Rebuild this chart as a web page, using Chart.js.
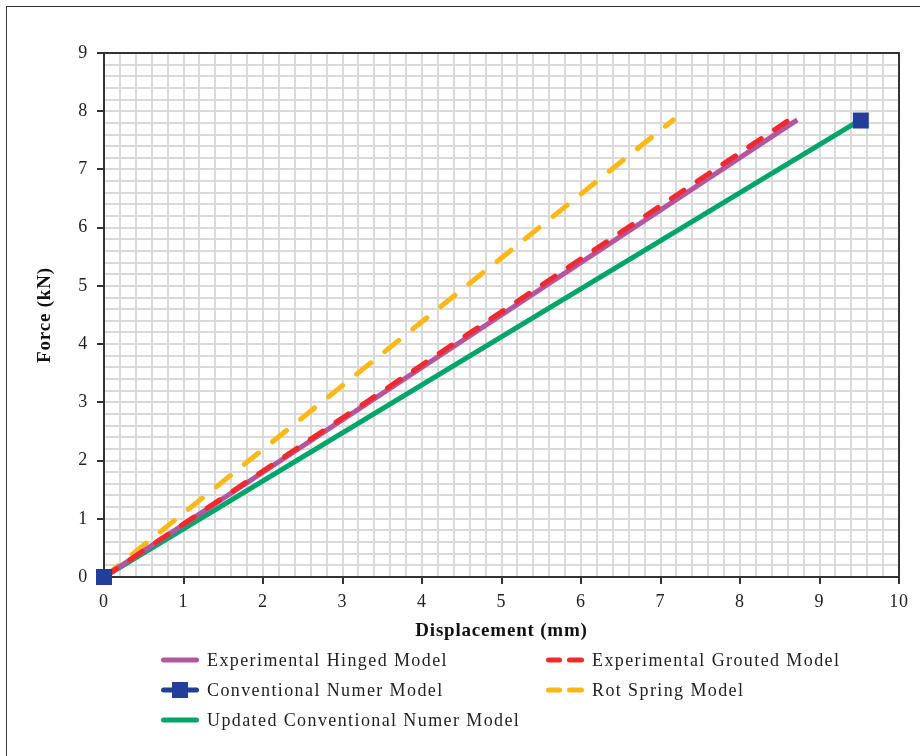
<!DOCTYPE html>
<html>
<head>
<meta charset="utf-8">
<script src="https://cdn.jsdelivr.net/npm/chart.js@4.4.1/dist/chart.umd.min.js"></script>
<style>
  html, body { margin: 0; padding: 0; background: #fff; }
  body { width: 920px; height: 756px; position: relative; overflow: hidden; }
  #frame { position: absolute; left: 6px; top: 6px; width: 1000px; height: 1000px; border: 1.5px solid #333; box-sizing: border-box; }
  #chart { position: absolute; left: 0; top: 0; }
  .lg { position: absolute; height: 30px; display: flex; align-items: center; font-family: 'Liberation Serif', serif; font-size: 18px; color: #222; letter-spacing: 1.4px; white-space: nowrap; }
  .lg canvas { margin-right: 8px; }
</style>
</head>
<body>
<div id="frame"></div>
<canvas id="chart" width="920" height="756"></canvas>
<div id="legend"></div>
<script>
const ctx = document.getElementById('chart').getContext('2d')
const serif = "'Liberation Serif', serif"

// end points, all curves start at the origin
const hingedX = [0, 8.72]
const hingedY = [0, 7.85]
const groutedX = [0, 8.64]
const groutedY = [0, 7.87]
const conventionalX = [0, 9.52]
const conventionalY = [0, 7.84]
const rotSpringX = [0, 7.16]
const rotSpringY = [0, 7.85]
const updatedX = [0, 9.5]
const updatedY = [0, 7.84]

const xTicks = [0, 1, 2, 3, 4, 5, 6, 7, 8, 9, 10]
const yTicks = [0, 1, 2, 3, 4, 5, 6, 7, 8, 9]

const pts = (xs, ys) => xs.map((x, i) => ({ x, y: ys[i] }))
const isMajor = v => Math.abs(v - Math.round(v)) < 1e-6

const datasets = [
  {
    label: 'Experimental Hinged Model',
    data: pts(hingedX, hingedY),
    borderColor: '#b4559e',
    borderWidth: 5,
    pointRadius: 0,
    order: 2,
  },
  {
    label: 'Experimental Grouted Model',
    data: pts(groutedX, groutedY),
    borderColor: '#ee2a2f',
    borderWidth: 5,
    borderDash: [15, 16],
    borderCapStyle: 'round',
    pointRadius: 0,
    order: 1,
  },
  {
    label: 'Conventional Numer Model',
    data: pts(conventionalX, conventionalY),
    borderColor: '#213f99',
    backgroundColor: '#213f99',
    showLine: false,
    pointStyle: 'rect',
    pointRadius: 11.3,
    pointBorderWidth: 0,
    clip: false,
    order: 0,
  },
  {
    label: 'Rot Spring Model',
    data: pts(rotSpringX, rotSpringY),
    borderColor: '#fbb817',
    borderWidth: 5,
    borderDash: [18, 18],
    borderCapStyle: 'round',
    pointRadius: 0,
    order: 4,
  },
  {
    label: 'Updated Conventional Numer Model',
    data: pts(updatedX, updatedY),
    borderColor: '#00a56a',
    borderWidth: 5,
    pointRadius: 0,
    order: 3,
  },
]

// top and right edges of the plot box
const boxPlugin = {
  id: 'box',
  beforeDraw(chart) {
    // the original lettering is a bit wider than Liberation Serif
    chart.ctx.letterSpacing = '0.8px'
  },
  beforeDatasetsDraw(chart) {
    const { ctx, chartArea: a } = chart
    ctx.save()
    ctx.strokeStyle = '#333'
    ctx.lineWidth = 2
    ctx.beginPath()
    ctx.moveTo(a.left, a.top)
    ctx.lineTo(a.right, a.top)
    ctx.lineTo(a.right, a.bottom)
    ctx.stroke()
    ctx.restore()
  },
  afterDraw(chart) {
    chart.ctx.letterSpacing = '0px'
  },
}

const gridOpts = {
  color: '#dadada',
  lineWidth: 2,
  tickLength: 7,
  tickWidth: 2,
  tickColor: c => (c.tick && isMajor(c.tick.value) ? '#333' : 'rgba(0,0,0,0)'),
}

const config = {
  type: 'line',
  data: { datasets },
  options: {
    responsive: false,
    animation: false,
    layout: { padding: { top: 53, right: 21, bottom: 109, left: 0 } },
    plugins: { legend: { display: false }, tooltip: { enabled: false } },
    scales: {
      x: {
        type: 'linear',
        min: xTicks[0],
        max: xTicks[xTicks.length - 1],
        ticks: {
          stepSize: 0.2,
          autoSkip: false,
          maxRotation: 0,
          padding: 7,
          color: '#222',
          font: { family: serif, size: 18 },
          callback: v => (isMajor(v) && xTicks.includes(Math.round(v)) ? Math.round(v) : ''),
        },
        grid: gridOpts,
        border: { color: '#333', width: 2 },
        title: {
          display: true,
          text: 'Displacement (mm)',
          color: '#111',
          font: { family: serif, size: 19, weight: 'bold' },
          padding: { top: 0, bottom: 5 },
        },
        afterFit: s => { s.height = 70 },
      },
      y: {
        type: 'linear',
        min: yTicks[0],
        max: yTicks[yTicks.length - 1],
        ticks: {
          stepSize: 0.2,
          autoSkip: false,
          padding: 9,
          color: '#222',
          font: { family: serif, size: 18 },
          callback: v => (isMajor(v) && yTicks.includes(Math.round(v)) ? Math.round(v) : ''),
        },
        grid: gridOpts,
        border: { color: '#333', width: 2 },
        title: {
          display: true,
          text: 'Force (kN)',
          color: '#111',
          font: { family: serif, size: 19, weight: 'bold' },
          padding: { top: 34, bottom: 0 },
        },
        afterFit: s => { s.width = 104 },
      },
    },
  },
  plugins: [boxPlugin],
}

const chart = new Chart(ctx, config)

// legend laid out in two columns like the original
const legendSlots = [
  [161, 660], [546, 660],
  [161, 690], [546, 690],
  [161, 720],
]

function swatch(ds) {
  const c = document.createElement('canvas')
  c.width = 38
  c.height = 20
  const g = c.getContext('2d')
  g.lineCap = 'round'
  g.lineWidth = 5
  g.strokeStyle = ds.borderColor
  g.beginPath()
  if (ds.borderDash) {
    g.moveTo(2.5, 10); g.lineTo(13.5, 10)
    g.moveTo(23.5, 10); g.lineTo(35.5, 10)
  } else {
    g.moveTo(2.5, 10); g.lineTo(35.5, 10)
  }
  g.stroke()
  if (ds.pointStyle === 'rect') {
    g.fillStyle = ds.backgroundColor
    g.fillRect(11, 2, 16, 16)
  }
  return c
}

const legend = document.getElementById('legend')
datasets.forEach((ds, i) => {
  const [x, y] = legendSlots[i]
  const item = document.createElement('div')
  item.className = 'lg'
  item.style.left = x + 'px'
  item.style.top = (y - 15) + 'px'
  item.appendChild(swatch(ds))
  const span = document.createElement('span')
  span.textContent = ds.label
  item.appendChild(span)
  legend.appendChild(item)
})
</script>
</body>
</html>
